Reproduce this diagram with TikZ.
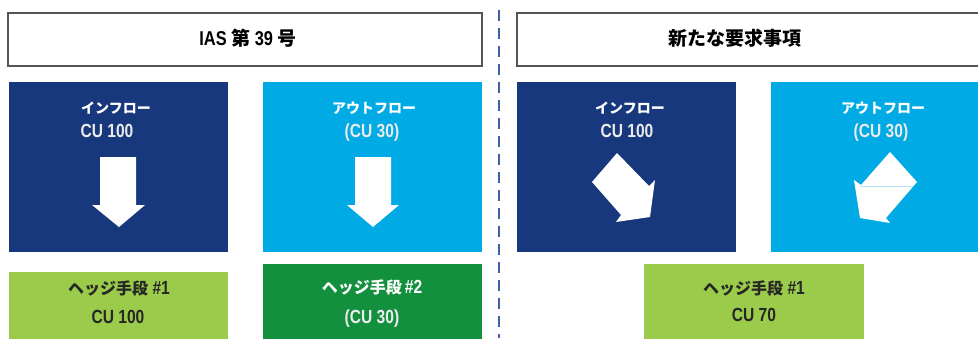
\documentclass[tikz,border=0pt]{standalone}
\usepackage{fontspec}
\setmainfont{Liberation Sans}[FakeStretch=0.82]
\newfontfamily\jp{Noto Sans CJK JP}
\definecolor{navy}{HTML}{17387C}
\definecolor{sky}{HTML}{00AAE4}
\definecolor{lime}{HTML}{9BCB4B}
\definecolor{forest}{HTML}{12903E}
\definecolor{dashblue}{HTML}{3F5FA8}
\definecolor{frame}{HTML}{555555}
\tikzset{
  hdtext/.style={anchor=base,inner sep=0pt,font=\bfseries\fontsize{20}{22}\selectfont},
  jpline/.style={anchor=base,inner sep=0pt,font=\bfseries\fontsize{19}{21}\selectfont},
  culine/.style={anchor=base,inner sep=0pt,font=\bfseries\fontsize{19}{21}\selectfont},
}
\newcommand{\jpbig}[1]{{\jp\fontsize{19}{22}\selectfont #1}}
\newcommand{\jpmid}[1]{{\jp\fontsize{16}{18}\selectfont #1}}
\newcommand{\jpsmall}[1]{{\jp\fontsize{14}{16}\selectfont #1}}

\begin{document}
\begin{tikzpicture}[x=1pt,y=-1pt]
\useasboundingbox (0,0) rectangle (978,338);
% headers
\draw[frame,line width=1.3pt] (8,13) rectangle (482,66);
\draw[frame,line width=1.3pt] (517,13) rectangle (991,66);
\node[hdtext] (hdleft) at (248,45) {IAS \jpbig{第} 39 \jpbig{号}};
\node[hdtext] (hdright) at (735,45) {\jpbig{新たな要求事項}};
% divider
\draw[dashblue,line width=2pt,dash pattern=on 11pt off 7pt] (499,10) -- (499,338);
% cash flow boxes
\fill[navy] (9,82) rectangle (228,252);
\fill[sky] (263,82) rectangle (482,252);
\fill[navy] (517,82) rectangle (736,252);
\fill[sky] (771,82) rectangle (990,252);
\node[jpline,white] (inleft) at (116,113) {\jpsmall{インフロー}};
\node[culine,white!92!black] (inleftcu) at (107,137) {CU 100};
\node[jpline,white] (outleft) at (374,113) {\jpsmall{アウトフロー}};
\node[culine,white!92!black] (outleftcu) at (372,137) {(CU 30)};
\node[jpline,white] (inright) at (630,113) {\jpsmall{インフロー}};
\node[culine,white!92!black] (inrightcu) at (627,137) {CU 100};
\node[jpline,white] (outright) at (883,113) {\jpsmall{アウトフロー}};
\node[culine,white!92!black] (outrightcu) at (881,137) {(CU 30)};
% arrows
\fill[white] (100,157) -- (136,157) -- (136,205) -- (145,205) -- (119,227) -- (92,205) -- (100,205) -- cycle;
\fill[white] (355,157) -- (391,157) -- (391,205) -- (399,205) -- (373,227) -- (347,205) -- (355,205) -- cycle;
\fill[white] (617,153) -- (649,186) -- (655,180) -- (650,217) -- (616,222) -- (621,215) -- (592,182) -- cycle;
\fill[white] (890,152) -- (917,182) -- (886,218) -- (890,223) -- (860,218) -- (854,180) -- (861,185) -- cycle;
\draw[sky!30!white,line width=0.8pt] (860,186.5) -- (913,186.5);
% hedge boxes
\fill[lime] (9,272) rectangle (228,345);
\fill[forest] (263,264) rectangle (482,345);
\fill[lime] (644,264) rectangle (864,345);
\node[jpline,black!85] (hedgeone) at (119,294) {\jpmid{ヘッジ手段} \#1};
\node[culine,black!85] (hedgeonecu) at (118,323) {CU 100};
\node[jpline,white] (hedgetwo) at (372,293) {\jpmid{ヘッジ手段}\,\#2};
\node[culine,white!92!black] (hedgetwocu) at (372,323) {(CU 30)};
\node[jpline,black!85] (hedgenew) at (754,294) {\jpmid{ヘッジ手段} \#1};
\node[culine,black!85] (hedgenewcu) at (754,321) {CU 70};
\end{tikzpicture}
\end{document}
